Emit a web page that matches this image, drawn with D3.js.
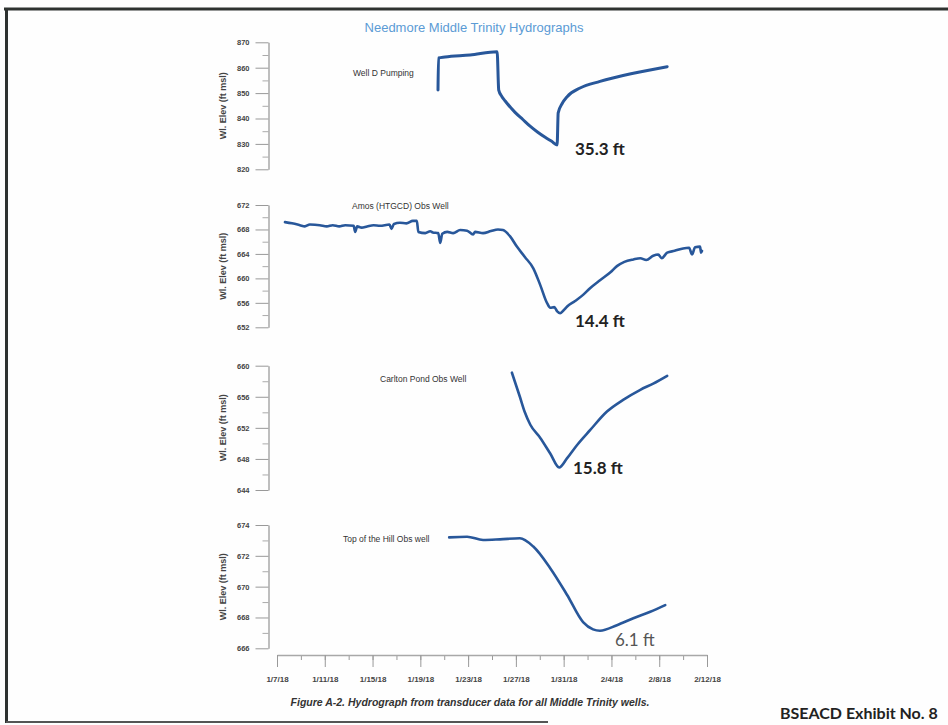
<!DOCTYPE html>
<html>
<head>
<meta charset="utf-8">
<script src="https://cdn.jsdelivr.net/npm/d3@7"></script>
<style>
  html, body { margin: 0; padding: 0; background: #fff; }
  svg { display: block; }
</style>
</head>
<body>
<svg id="chart" width="948" height="725"></svg>
<script>
// ---- data ----
const chartTitle = 'Needmore Middle Trinity Hydrographs';
const wellNames = ['Well D Pumping', 'Amos (HTGCD) Obs Well', 'Carlton Pond Obs Well', 'Top of the Hill Obs well'];
const drawdowns = ['35.3 ft', '14.4 ft', '15.8 ft', '6.1 ft'];
const yTicks = [
    [820, 830, 840, 850, 860, 870],
    [652, 656, 660, 664, 668, 672],
    [644, 648, 652, 656, 660],
    [666, 668, 670, 672, 674]
];
const dateLabels = ['1/7/18', '1/11/18', '1/15/18', '1/19/18', '1/23/18', '1/27/18', '1/31/18', '2/4/18', '2/8/18', '2/12/18'];

const wellD = [
    ['2018-01-20 11:30', 851.2], ['2018-01-20 12:30', 863.8], ['2018-01-21 01:40', 864.2],
    ['2018-01-23 04:00', 865.0], ['2018-01-25 10:20', 866.3], ['2018-01-25 13:30', 851.2],
    ['2018-01-25 20:00', 848.6], ['2018-01-26 02:30', 846.9], ['2018-01-26 22:20', 842.4],
    ['2018-01-27 14:00', 839.6], ['2018-01-28 04:30', 837.0], ['2018-01-28 20:00', 834.6],
    ['2018-01-29 10:50', 832.6], ['2018-01-30 00:00', 831.0], ['2018-01-30 10:50', 829.6],
    ['2018-01-30 13:00', 842.2], ['2018-01-30 21:00', 845.9], ['2018-01-31 07:00', 848.6],
    ['2018-02-01 09:00', 852.0], ['2018-02-03 01:00', 854.6], ['2018-02-05 20:00', 857.8],
    ['2018-02-08 16:00', 860.4]
];
const amos = [
    ['2018-01-07 16:00', 669.2], ['2018-01-08 06:00', 669.0], ['2018-01-08 22:00', 668.7],
    ['2018-01-09 08:00', 668.5], ['2018-01-09 18:00', 668.8], ['2018-01-10 14:00', 668.7],
    ['2018-01-11 04:00', 668.5], ['2018-01-11 16:00', 668.7], ['2018-01-12 05:00', 668.5],
    ['2018-01-12 17:00', 668.7], ['2018-01-13 10:00', 668.6], ['2018-01-13 13:00', 667.6],
    ['2018-01-13 17:00', 668.5], ['2018-01-14 02:00', 668.3], ['2018-01-14 13:00', 668.5],
    ['2018-01-15 02:00', 668.7], ['2018-01-15 15:00', 668.6], ['2018-01-16 10:00', 668.8],
    ['2018-01-16 14:00', 668.1], ['2018-01-16 19:00', 668.9], ['2018-01-17 07:00', 669.1],
    ['2018-01-17 20:00', 669.0], ['2018-01-18 09:00', 669.4], ['2018-01-18 17:00', 669.4],
    ['2018-01-18 20:00', 667.6], ['2018-01-19 10:00', 667.4], ['2018-01-19 20:00', 667.7],
    ['2018-01-20 01:00', 667.5], ['2018-01-20 12:00', 667.4], ['2018-01-20 16:00', 665.8],
    ['2018-01-20 20:00', 667.3], ['2018-01-21 06:00', 667.6], ['2018-01-21 18:00', 667.4],
    ['2018-01-22 08:00', 667.9], ['2018-01-22 22:00', 667.8], ['2018-01-23 10:00', 667.2],
    ['2018-01-23 14:00', 667.6], ['2018-01-24 06:00', 667.4], ['2018-01-24 22:00', 667.75],
    ['2018-01-25 12:00', 668.0], ['2018-01-25 22:00', 667.9], ['2018-01-26 12:00', 666.9],
    ['2018-01-27 02:00', 665.2], ['2018-01-27 18:00', 663.5], ['2018-01-28 11:00', 661.65],
    ['2018-01-29 01:00', 658.9], ['2018-01-29 15:00', 655.9], ['2018-01-29 21:00', 655.2],
    ['2018-01-30 05:00', 655.3], ['2018-01-30 11:00', 654.6], ['2018-01-30 17:00', 654.3],
    ['2018-01-30 23:00', 654.7], ['2018-01-31 07:00', 655.4], ['2018-01-31 23:00', 656.3],
    ['2018-02-01 15:00', 657.3], ['2018-02-02 05:00', 658.4], ['2018-02-03 01:00', 659.7],
    ['2018-02-03 22:00', 661.0], ['2018-02-04 11:00', 662.0], ['2018-02-05 02:00', 662.7],
    ['2018-02-05 20:00', 663.1], ['2018-02-06 10:00', 663.3], ['2018-02-06 22:00', 663.0],
    ['2018-02-07 12:00', 663.7], ['2018-02-07 22:00', 663.9], ['2018-02-08 05:00', 663.3],
    ['2018-02-08 16:00', 664.2], ['2018-02-09 07:00', 664.5], ['2018-02-10 00:00', 664.9],
    ['2018-02-10 12:00', 665.0], ['2018-02-10 18:00', 663.9], ['2018-02-11 00:00', 665.1],
    ['2018-02-11 10:00', 665.2], ['2018-02-11 12:00', 664.2], ['2018-02-11 14:00', 664.5]
];
const carlton = [
    ['2018-01-26 16:00', 659.1], ['2018-01-27 08:00', 656.0], ['2018-01-27 18:00', 654.0],
    ['2018-01-28 05:00', 652.4], ['2018-01-29 01:00', 650.7], ['2018-01-29 21:00', 648.7],
    ['2018-01-30 15:00', 646.9], ['2018-01-31 07:00', 648.1], ['2018-02-01 03:00', 649.8],
    ['2018-02-02 05:00', 651.7], ['2018-02-03 15:00', 654.1], ['2018-02-04 23:30', 655.6],
    ['2018-02-06 10:00', 656.9], ['2018-02-07 12:00', 657.7], ['2018-02-08 16:00', 658.7]
];
const topHill = [
    ['2018-01-21 10:00', 673.2], ['2018-01-22 22:00', 673.24], ['2018-01-24 06:00', 673.03],
    ['2018-01-25 16:00', 673.07], ['2018-01-27 08:00', 673.14], ['2018-01-28 11:00', 672.6],
    ['2018-01-29 21:00', 671.2], ['2018-01-31 07:00', 669.46], ['2018-02-01 15:00', 667.7],
    ['2018-02-02 11:00', 667.23], ['2018-02-03 01:00', 667.14], ['2018-02-04 11:00', 667.5],
    ['2018-02-05 20:00', 667.95], ['2018-02-07 06:00', 668.37], ['2018-02-08 12:00', 668.8]
];
const wells = [wellD, amos, carlton, topHill];

// ---- layout ----
const svg = d3.select('#chart');
const parseTime = d3.timeParse('%Y-%m-%d %H:%M');
const parseLabel = d3.timeParse('%m/%d/%y');
const tickDates = dateLabels.map(parseLabel);
const lineColor = '#28579a';
const axisX0 = 268.5;

// panel vertical extents [top, bottom]
const panels = [[42.3, 169.3], [205, 327.3], [365.7, 490], [525, 648.3]];
const nameXY = [[353, 76], [352, 209], [380, 382], [343, 542]];
const noteXY = [[575, 155], [575, 327], [573, 474], [615, 646]];

var x = d3.scaleTime()
    .domain([tickDates[0], tickDates[tickDates.length - 1]])
    .range([277, 707]);

// page frame
svg.append('rect').attr('x', 0).attr('y', 0).attr('width', 948).attr('height', 725).attr('fill', '#fefefe');
svg.append('line').attr('x1', 4).attr('x2', 948).attr('y1', 9).attr('y2', 9).attr('stroke', '#2e3230').attr('stroke-width', 3);
svg.append('line').attr('x1', 6.5).attr('x2', 6.5).attr('y1', 8).attr('y2', 723).attr('stroke', '#2e3230').attr('stroke-width', 3);
svg.append('line').attr('x1', 6).attr('x2', 548).attr('y1', 722).attr('y2', 722).attr('stroke', '#555').attr('stroke-width', 2);

svg.append('text')
    .attr('x', 474).attr('y', 32)
    .attr('text-anchor', 'middle')
    .attr('font-family', 'Liberation Sans, Arial, sans-serif')
    .attr('font-size', '13px')
    .attr('fill', '#5b9bd5')
    .text(chartTitle);

wells.forEach(function(data, i) {
    var top = panels[i][0], bottom = panels[i][1];
    var ticks = yTicks[i];
    var y = d3.scaleLinear()
        .domain([ticks[0], ticks[ticks.length - 1]])
        .range([bottom, top]);

    var g = svg.append('g').attr('class', 'panel' + i);

    // minor ticks halfway between majors
    var step = ticks[1] - ticks[0];
    var minor = ticks.slice(0, -1).map(function(t) { return t + step / 2; });
    g.append('g')
        .attr('transform', 'translate(' + axisX0 + ',0)')
        .call(d3.axisLeft(y).tickValues(minor).tickSize(6).tickFormat(''))
        .call(function(a) {
            a.select('.domain').remove();
            a.selectAll('.tick line').attr('stroke', '#aaa');
        });

    g.append('g')
        .attr('class', 'y_axis')
        .attr('transform', 'translate(' + axisX0 + ',0)')
        .call(d3.axisLeft(y).tickValues(ticks).tickSize(13).tickPadding(6).tickSizeOuter(0))
        .call(function(a) {
            a.select('.domain').attr('stroke', '#a8a8a8').attr('stroke-width', 1.5);
            a.selectAll('.tick line').attr('stroke', '#999');
            a.selectAll('.tick text')
                .attr('fill', '#444')
                .attr('font-weight', 'bold')
                .attr('font-size', '7.5px')
                .attr('font-family', 'Liberation Sans, Arial, sans-serif');
        });

    g.append('text')
        .attr('transform', 'translate(226,' + ((top + bottom) / 2) + ') rotate(-90)')
        .attr('text-anchor', 'middle')
        .attr('font-family', 'Liberation Sans, Arial, sans-serif')
        .attr('font-size', '9px')
        .attr('font-weight', 'bold')
        .attr('fill', '#444')
        .text('Wl. Elev (ft msl)');

    g.append('text')
        .attr('x', nameXY[i][0]).attr('y', nameXY[i][1])
        .attr('font-family', 'Liberation Sans, Arial, sans-serif')
        .attr('font-size', '8.5px')
        .attr('fill', '#333')
        .text(wellNames[i]);

    var line = d3.line()
        .curve(d3.curveMonotoneX)
        .x(function(d) { return x(parseTime(d[0])); })
        .y(function(d) { return y(d[1]); });

    g.append('path')
        .datum(data)
        .attr('d', line)
        .attr('fill', 'none')
        .attr('stroke', lineColor)
        .attr('stroke-width', i === 0 ? 3 : 2.6)
        .attr('stroke-linejoin', 'round')
        .attr('stroke-linecap', 'round');

    g.append('text')
        .attr('x', noteXY[i][0]).attr('y', noteXY[i][1])
        .attr('font-family', 'Lato, sans-serif')
        .attr('font-size', '17px')
        .attr('font-weight', i === 3 ? 'normal' : 'bold')
        .attr('fill', i === 3 ? '#555' : '#222')
        .text(drawdowns[i]);
});

// shared date axis
var minorDates = d3.timeDay.range(tickDates[0], tickDates[tickDates.length - 1], 2);
svg.append('g')
    .attr('transform', 'translate(0,655)')
    .call(d3.axisBottom(x).tickValues(minorDates).tickSize(5).tickFormat(''))
    .call(function(a) {
        a.select('.domain').remove();
        a.selectAll('.tick line').attr('stroke', '#999');
    });
svg.append('g')
    .attr('class', 'x_axis')
    .attr('transform', 'translate(0,655)')
    .call(d3.axisBottom(x).tickValues(tickDates).tickSize(12).tickPadding(9).tickSizeOuter(0)
        .tickFormat(function(d, i) { return dateLabels[i]; }))
    .call(function(a) {
        a.select('.domain').attr('stroke', '#a8a8a8').attr('stroke-width', 1.5);
        a.selectAll('.tick line').attr('stroke', '#999');
        a.selectAll('.tick text')
            .attr('fill', '#444')
            .attr('font-weight', 'bold')
            .attr('font-size', '8px')
            .attr('font-family', 'Liberation Sans, Arial, sans-serif');
    });

svg.append('text')
    .attr('x', 470).attr('y', 706)
    .attr('text-anchor', 'middle')
    .attr('font-family', 'Liberation Sans, Arial, sans-serif')
    .attr('font-size', '10.5px')
    .attr('font-style', 'italic')
    .attr('font-weight', 'bold')
    .attr('fill', '#333')
    .text('Figure A-2. Hydrograph from transducer data for all Middle Trinity wells.');

svg.append('text')
    .attr('x', 780).attr('y', 719)
    .attr('font-family', 'Lato, sans-serif')
    .attr('font-size', '16px')
    .attr('font-weight', 'bold')
    .attr('fill', '#222')
    .text('BSEACD Exhibit No. 8');
</script>
</body>
</html>
